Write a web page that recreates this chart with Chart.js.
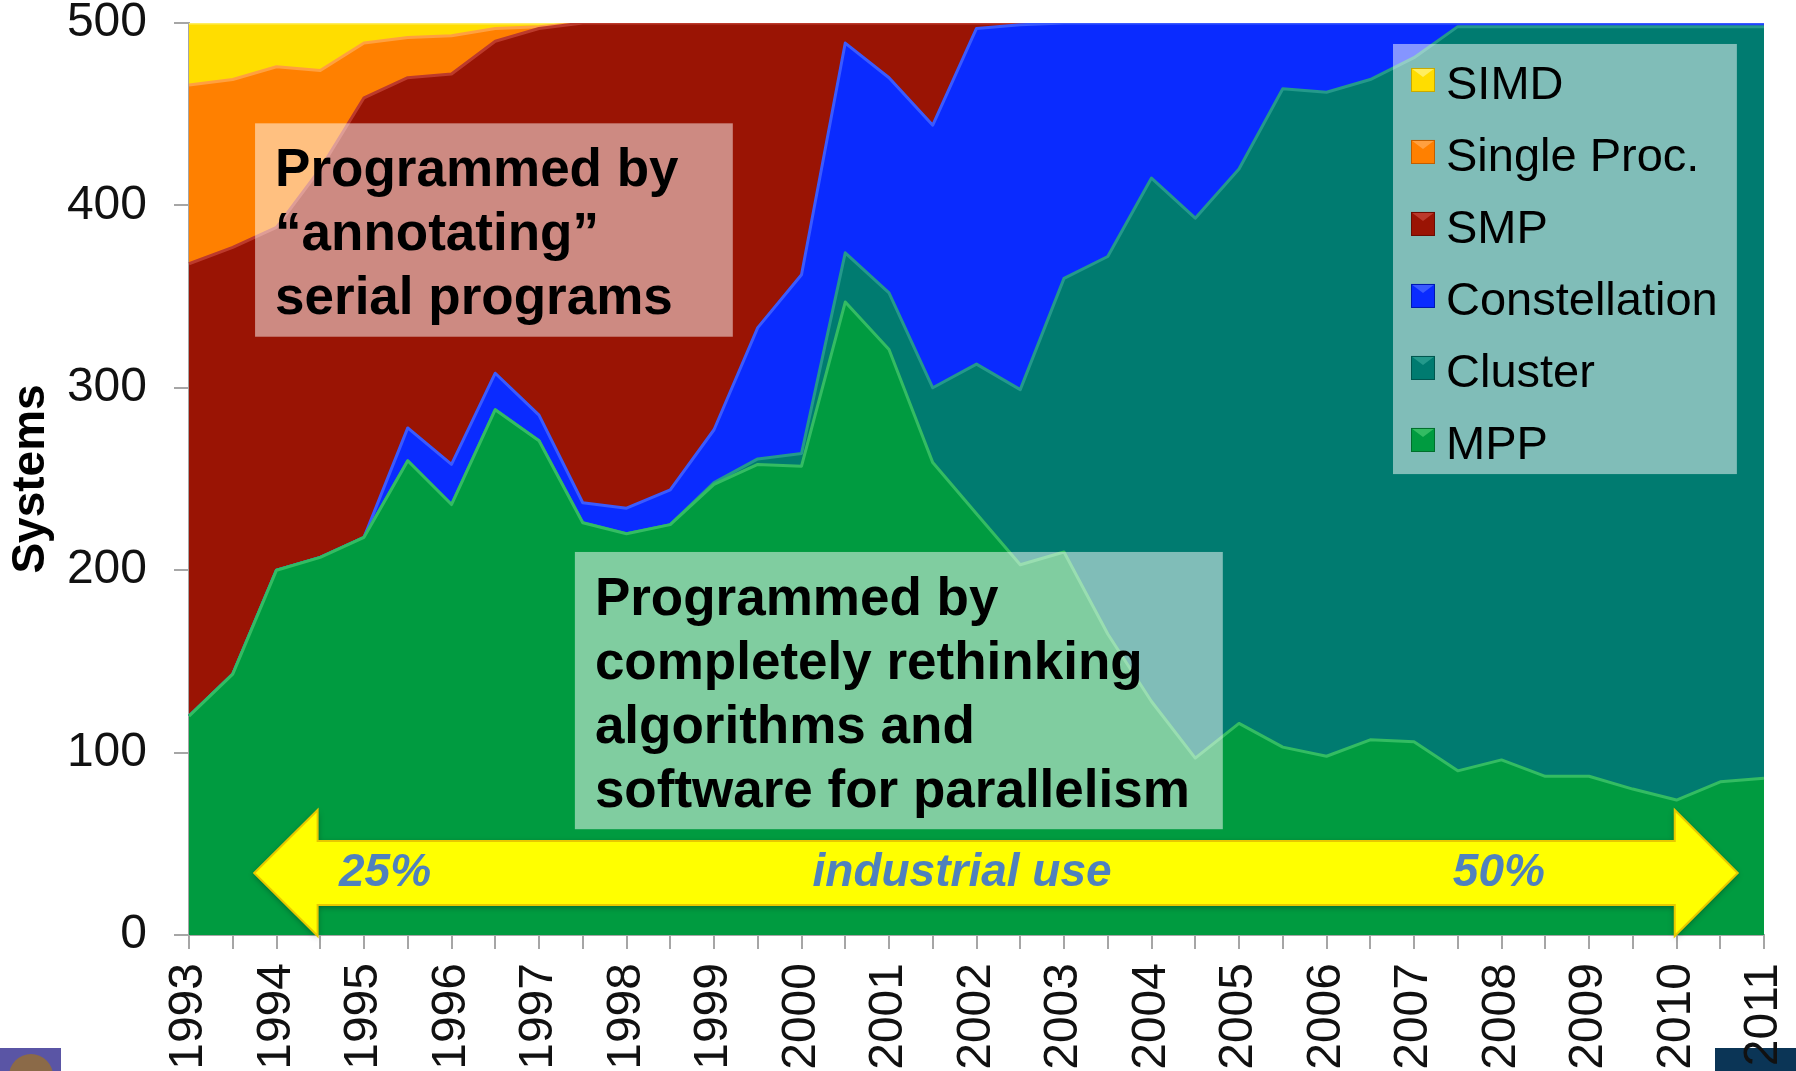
<!DOCTYPE html>
<html>
<head>
<meta charset="utf-8">
<title>TOP500 systems by architecture</title>
<script src="https://cdn.jsdelivr.net/npm/chart.js@4.4.1/dist/chart.umd.min.js"></script>
<style>
  html, body { margin: 0; padding: 0; background: #fff; overflow: hidden; }
  #wrap { width: 1796px; height: 1071px; }
</style>
</head>
<body>
<div id="wrap"><canvas id="archChart" width="1796" height="1071"></canvas></div>
<script>
// one entry per TOP500 list (June / November), 1993 .. 2011
const periods = ["1993","","1994","","1995","","1996","","1997","","1998","","1999","","2000","",
                 "2001","","2002","","2003","","2004","","2005","","2006","","2007","","2008","",
                 "2009","","2010","","2011"];

// number of systems per architecture (stacked, total 500)
const mpp           = [120,143,200,207,218,260,236,288,271,226,220,225,247,258,257,347,321,259,231,203,
                       210,165,128,97,116,103,98,107,106,90,96,87,87,80,74,84,86];
const cluster       = [0,0,0,0,0,0,0,0,0,0,0,0,1,3,7,27,31,41,82,96,
                       150,207,287,296,304,361,364,362,375,408,402,411,411,418,424,414,412];
const constellation = [0,0,0,0,0,18,22,20,14,11,14,19,29,72,98,115,118,144,184,200,
                       140,128,85,107,80,36,38,31,19,2,2,2,2,2,2,2,2];
const smp           = [248,234,188,213,241,192,214,182,212,263,266,256,223,167,138,11,30,56,3,1,
                       0,0,0,0,0,0,0,0,0,0,0,0,0,0,0,0,0];
const singleProc    = [98,92,88,54,30,22,21,7,1,0,0,0,0,0,0,0,0,0,0,0,
                       0,0,0,0,0,0,0,0,0,0,0,0,0,0,0,0,0];
const simd          = [34,31,24,26,11,8,7,3,2,0,0,0,0,0,0,0,0,0,0,0,
                       0,0,0,0,0,0,0,0,0,0,0,0,0,0,0,0,0];

const yTicks = [0, 100, 200, 300, 400, 500];

const seriesNames  = ["MPP", "Cluster", "Constellation", "SMP", "Single Proc.", "SIMD"];
const seriesData   = [mpp, cluster, constellation, smp, singleProc, simd];
const seriesColors = ["#009B40", "#007B70", "#0A2BFF", "#9A1404", "#FF8000", "#FFDD00"];
const edgeColors   = ["#33BC62", "#24998B", "#3A5AFF", "#BC3A2C", "#FFA040", "#FFEE60"];
const darkColors   = ["#006E2C", "#00564E", "#0018B0", "#6A0C02", "#C05E00", "#C8A800"];

const FONT = "'Liberation Sans', Arial, Helvetica, sans-serif";
Chart.defaults.font.family = FONT;

// every band fills down to zero; lower bands are drawn later and sit on top,
// so the stack reads the same without seams between neighbouring fills
const datasets = seriesNames.map((name, i) => ({
  label: name,
  data: seriesData[i],
  backgroundColor: seriesColors[i],
  borderColor: edgeColors[i],
  borderWidth: 3,
  borderJoinStyle: "round",
  fill: "origin",
  pointRadius: 0,
  tension: 0
}));

// ── slide decorations behind the chart ──
const decorPlugin = {
  id: "decor",
  beforeDraw(chart) {
    const ctx = chart.ctx;
    ctx.save();
    ctx.fillStyle = "#5A55A5";
    ctx.fillRect(0, 1048, 61, 23);
    ctx.fillStyle = "#8B6A48";
    ctx.beginPath();
    ctx.arc(31, 1076, 22, 0, Math.PI * 2);
    ctx.fill();
    ctx.fillStyle = "#0B3556";
    ctx.fillRect(1715, 1048, 81, 23);
    ctx.restore();
  }
};

function textBox(ctx, x0, y0, x1, y1, lines) {
  ctx.fillStyle = "rgba(255,255,255,0.5)";
  ctx.fillRect(x0, y0, x1 - x0, y1 - y0);
  ctx.fillStyle = "#000";
  ctx.font = "bold 53px " + FONT;
  ctx.textAlign = "left";
  ctx.textBaseline = "middle";
  lines.forEach((t, k) => ctx.fillText(t, x0 + 20, y0 + 48 + k * 64));
}

// ── call-out boxes, industrial-use arrow, legend ──
const overlayPlugin = {
  id: "overlay",
  afterDatasetsDraw(chart) {
    const { ctx, scales: { x, y } } = chart;
    const px = i => x.getPixelForValue(i);
    const py = v => y.getPixelForValue(v);
    ctx.save();

    textBox(ctx, px(1.51), py(445), px(12.43), py(328),
      ["Programmed by", "\u201Cannotating\u201D", "serial programs"]);
    textBox(ctx, px(8.82), py(210), px(23.63), py(58),
      ["Programmed by", "completely rethinking", "algorithms and", "software for parallelism"]);

    // double arrow
    const L = px(1.49), R = px(35.4), hbL = px(2.94), hbR = px(33.96), cy = py(34);
    const sh = 32, hh = 63;
    ctx.save();
    ctx.shadowColor = "rgba(0,0,0,0.35)";
    ctx.shadowBlur = 6;
    ctx.shadowOffsetY = 2;
    ctx.beginPath();
    ctx.moveTo(L, cy);
    ctx.lineTo(hbL, cy - hh);
    ctx.lineTo(hbL, cy - sh);
    ctx.lineTo(hbR, cy - sh);
    ctx.lineTo(hbR, cy - hh);
    ctx.lineTo(R, cy);
    ctx.lineTo(hbR, cy + hh);
    ctx.lineTo(hbR, cy + sh);
    ctx.lineTo(hbL, cy + sh);
    ctx.lineTo(hbL, cy + hh);
    ctx.closePath();
    ctx.fillStyle = "#FFFF00";
    ctx.fill();
    ctx.restore();
    ctx.strokeStyle = "#E8C800";
    ctx.lineWidth = 2;
    ctx.stroke();

    ctx.fillStyle = "#4F81BD";
    ctx.font = "italic bold 46px " + FONT;
    ctx.textAlign = "center";
    ctx.textBaseline = "middle";
    ctx.fillText("25%", px(4.48), cy);
    ctx.fillText("industrial use", px(17.67), cy);
    ctx.fillText("50%", px(29.94), cy);

    // legend
    const lx0 = px(27.52), lx1 = px(35.38), ly0 = py(488.5), ly1 = py(252.7);
    ctx.fillStyle = "rgba(255,255,255,0.5)";
    ctx.fillRect(lx0, ly0, lx1 - lx0, ly1 - ly0);
    ctx.font = "47px " + FONT;
    ctx.textAlign = "left";
    for (let k = 0; k < seriesNames.length; k++) {
      const i = seriesNames.length - 1 - k;
      const cyRow = ly0 + 42 + k * 72;
      const sx = lx0 + 18, sy = cyRow - 18;
      ctx.fillStyle = seriesColors[i];
      ctx.fillRect(sx, sy, 24, 24);
      ctx.fillStyle = edgeColors[i];
      ctx.beginPath();
      ctx.moveTo(sx, sy);
      ctx.lineTo(sx + 24, sy);
      ctx.lineTo(sx + 12, sy + 9);
      ctx.closePath();
      ctx.fill();
      ctx.strokeStyle = darkColors[i];
      ctx.lineWidth = 1;
      ctx.strokeRect(sx + 0.5, sy + 0.5, 23, 23);
      ctx.fillStyle = "#000";
      ctx.fillText(seriesNames[i], lx0 + 53, cyRow);
    }
    ctx.restore();
  }
};

new Chart(document.getElementById("archChart"), {
  type: "line",
  data: { labels: periods, datasets },
  plugins: [decorPlugin, overlayPlugin],
  options: {
    responsive: false,
    animation: false,
    devicePixelRatio: 1,
    layout: { padding: { top: 23, right: 32, left: 0, bottom: 0 } },
    plugins: { legend: { display: false }, tooltip: { enabled: false } },
    scales: {
      x: {
        offset: false,
        grid: { drawOnChartArea: false, drawTicks: true, tickLength: 14, color: "#A6A6A6", lineWidth: 2 },
        border: { color: "#A6A6A6", width: 2 },
        ticks: { autoSkip: false, minRotation: 90, maxRotation: 90, padding: 14, color: "#111",
                 font: { size: 48 } },
        afterFit(scale) { scale.height = 136; scale.paddingLeft = 0; scale.paddingRight = 0; }
      },
      y: {
        stacked: true,
        min: 0,
        max: 500,
        afterBuildTicks(scale) { scale.ticks = yTicks.map(v => ({ value: v })); },
        grid: { drawOnChartArea: false, drawTicks: true, tickLength: 15, color: "#A6A6A6", lineWidth: 2 },
        border: { color: "#A6A6A6", width: 2 },
        ticks: { padding: 27, color: "#111", font: { size: 48, lineHeight: 1 } },
        title: { display: true, text: "Systems", color: "#000", padding: { top: 4, bottom: 0 },
                 font: { size: 46, weight: "bold" } },
        afterFit(scale) { scale.width = 189; scale.paddingTop = 0; scale.paddingBottom = 0; }
      }
    }
  }
});
</script>
</body>
</html>
